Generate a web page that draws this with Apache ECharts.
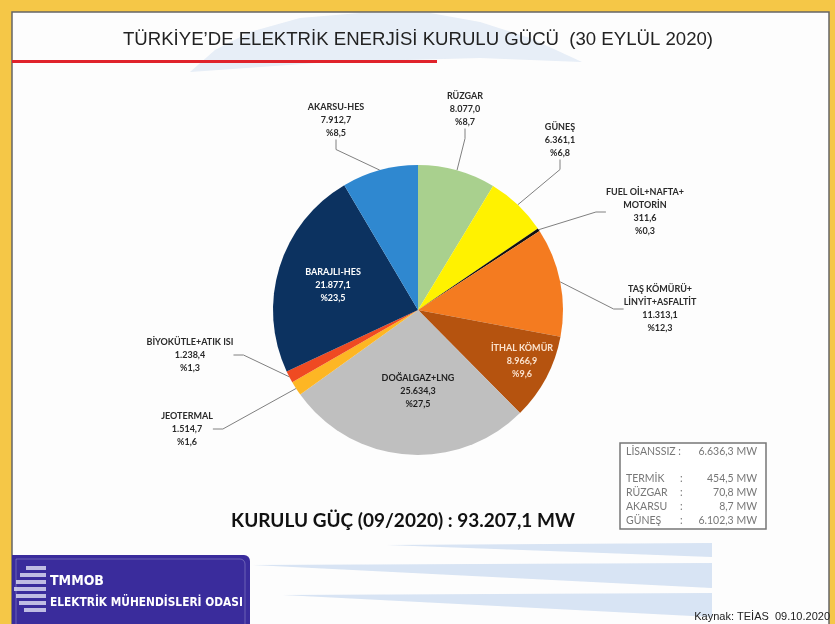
<!DOCTYPE html>
<html>
<head>
<meta charset="utf-8">
<script src="https://cdn.jsdelivr.net/npm/echarts@6/dist/echarts.min.js"></script>
<style>
  html, body { margin: 0; padding: 0; background: #f5c747; }
  #chart { width: 835px; height: 624px; }
</style>
</head>
<body>
<div id="chart"></div>
<script>
(function () {
  'use strict';

  // Kurulu güç by source, clockwise from 12 o'clock
  var sources = [
    'RÜZGAR', 'GÜNEŞ', 'FUEL OİL+NAFTA+\nMOTORİN', 'TAŞ KÖMÜRÜ+\nLİNYİT+ASFALTİT',
    'İTHAL KÖMÜR', 'DOĞALGAZ+LNG', 'JEOTERMAL', 'BİYOKÜTLE+ATIK ISI',
    'BARAJLI-HES', 'AKARSU-HES'
  ];
  var capacityMW = [8077.0, 6361.1, 311.6, 11313.1, 8966.9, 25634.3, 1514.7, 1238.4, 21877.1, 7912.7];
  var sharePct = ['8,7', '6,8', '0,3', '12,3', '9,6', '27,5', '1,6', '1,3', '23,5', '8,5'];

  // Lisanssız box
  var unlicensedTotal = ['LİSANSSIZ', '6.636,3 MW'];
  var unlicensedNames = ['TERMİK', 'RÜZGAR', 'AKARSU', 'GÜNEŞ'];
  var unlicensedValues = ['454,5 MW', '70,8 MW', '8,7 MW', '6.102,3 MW'];

  var titleText = 'TÜRKİYE\u2019DE ELEKTRİK ENERJİSİ KURULU GÜCÜ  (30 EYLÜL 2020)';
  var totalText = 'KURULU GÜÇ (09/2020) : 93.207,1 MW';
  var sourceText = 'Kaynak: TEİAS  09.10.2020';

  // slice colours and label placement (styling, not data)
  var colors = ['#a9d08e', '#fff200', '#111111', '#f47b20', '#b5530f',
    '#bfbfbf', '#fdb624', '#ef4a22', '#0c3260', '#2f88d0'];
  var labelPos = [
    [465, 109], [560, 140], [645, 212], [660, 309], [522, 361],
    [418, 391], [187, 429], [190, 355], [333, 285], [336, 120]
  ];
  var insideIdx = { 4: '#fbe3cf', 5: '#1e1e1e', 8: '#ffffff' };

  function fmt(v) {
    var parts = v.toFixed(1).split('.');
    return parts[0].replace(/\B(?=(\d{3})+(?!\d))/g, '.') + ',' + parts[1];
  }

  var pieData = sources.map(function (name, i) {
    var inside = insideIdx.hasOwnProperty(i);
    return {
      name: name,
      value: capacityMW[i],
      itemStyle: { color: colors[i] },
      label: { color: inside ? insideIdx[i] : '#2a2a2a' },
      labelLine: { show: !inside }
    };
  });

  var chart = echarts.init(document.getElementById('chart'), null, { renderer: 'canvas' });

  var labelFont = 'Lato, "Open Sans", sans-serif';
  var boxFont = '10.5px ' + labelFont;

  // box rows
  var boxGraphics = [
    { type: 'rect', shape: { x: 620, y: 443, width: 146, height: 86 },
      style: { fill: '#ffffff', stroke: '#777', lineWidth: 1.5 }, z: 5 },
    { type: 'text', x: 626, y: 452, style: { text: unlicensedTotal[0] + ' :', fill: '#777',
      font: boxFont, verticalAlign: 'middle' }, z: 6 },
    { type: 'text', x: 757, y: 452, style: { text: unlicensedTotal[1], fill: '#777',
      font: boxFont, align: 'right', verticalAlign: 'middle' }, z: 6 }
  ];
  unlicensedNames.forEach(function (n, i) {
    var y = 479 + i * 14;
    boxGraphics.push({ type: 'text', x: 626, y: y, style: { text: n, fill: '#777',
      font: boxFont, verticalAlign: 'middle' }, z: 6 });
    boxGraphics.push({ type: 'text', x: 680, y: y, style: { text: ':', fill: '#777',
      font: boxFont, verticalAlign: 'middle' }, z: 6 });
    boxGraphics.push({ type: 'text', x: 757, y: y, style: { text: unlicensedValues[i], fill: '#777',
      font: boxFont, align: 'right', verticalAlign: 'middle' }, z: 6 });
  });

  var logoStripes = [];
  [[566, 20], [573, 26], [580, 30], [587, 32], [594, 30], [601, 27], [608, 22]].forEach(function (s) {
    logoStripes.push({ type: 'rect', shape: { x: 46 - s[1], y: s[0], width: s[1], height: 4 },
      style: { fill: 'rgba(225,225,245,0.8)' }, z: 3 });
  });

  var option = {
    animation: false,
    backgroundColor: '#f5c747',
    graphic: [
      { type: 'rect', shape: { x: 12, y: 12, width: 817, height: 620 },
        style: { fill: '#fdfdfd', stroke: '#666', lineWidth: 1.5 }, z: 0 },
      // decorative swoosh behind the title
      { type: 'polygon', shape: { points: [[190, 72], [215, 50], [250, 32], [300, 18], [360, 13],
        [430, 13], [480, 22], [530, 38], [582, 62], [480, 58], [330, 62]] },
        style: { fill: 'rgba(190,208,235,0.35)' }, z: 1 },
      // bottom stripes
      { type: 'polygon', shape: { points: [[387, 545], [712, 543], [712, 557]] },
        style: { fill: 'rgba(200,216,240,0.7)' }, z: 1 },
      { type: 'polygon', shape: { points: [[253, 565], [712, 563], [712, 588]] },
        style: { fill: 'rgba(200,216,240,0.7)' }, z: 1 },
      { type: 'polygon', shape: { points: [[283, 595], [712, 593], [712, 617]] },
        style: { fill: 'rgba(200,216,240,0.7)' }, z: 1 },
      { type: 'rect', shape: { x: 12, y: 60, width: 425, height: 3 },
        style: { fill: '#e0232b' }, z: 2 },
      { type: 'text', x: 418, y: 40, style: { text: titleText, fill: '#222',
        font: '18.6px "Liberation Sans", Arial, sans-serif', align: 'center', verticalAlign: 'middle' }, z: 3 },
      { type: 'text', x: 403, y: 521, style: { text: totalText, fill: '#111',
        font: 'bold 19px ' + labelFont, align: 'center', verticalAlign: 'middle' }, z: 3 },
      { type: 'text', x: 830, y: 617, style: { text: sourceText, fill: '#222',
        font: '11px "Liberation Sans", Arial, sans-serif', align: 'right', verticalAlign: 'middle' }, z: 3 },
      // logo
      { type: 'rect', shape: { x: 12, y: 555, width: 238, height: 75, r: [0, 6, 0, 0] },
        style: { fill: '#3a2c9c' }, z: 2 },
      { type: 'rect', shape: { x: 16, y: 559, width: 229, height: 70, r: [0, 5, 0, 0] },
        style: { fill: 'none', stroke: 'rgba(255,255,255,0.25)', lineWidth: 1 }, z: 2 },
      { type: 'text', x: 50, y: 581, style: { text: 'TMMOB', fill: '#ffffff',
        font: 'bold 14px "DejaVu Sans Condensed", sans-serif', verticalAlign: 'middle' }, z: 3 },
      { type: 'text', x: 50, y: 603, style: { text: 'ELEKTRİK MÜHENDİSLERİ ODASI', fill: '#ffffff',
        font: 'bold 11.8px "DejaVu Sans Condensed", sans-serif', verticalAlign: 'middle' }, z: 3 }
    ].concat(logoStripes).concat(boxGraphics),
    series: [{
      type: 'pie',
      center: [418, 310],
      radius: 145,
      startAngle: 90,
      clockwise: true,
      avoidLabelOverlap: false,
      z: 4,
      itemStyle: { borderWidth: 0 },
      emphasis: { disabled: true },
      label: {
        show: true,
        fontFamily: labelFont,
        fontWeight: 'bold',
        fontSize: 9,
        lineHeight: 13,
        align: 'center',
        formatter: function (p) {
          return p.name + '\n' + fmt(p.value) + '\n%' + sharePct[p.dataIndex];
        }
      },
      labelLine: {
        show: true,
        length: 15,
        length2: 10,
        lineStyle: { color: '#808080', width: 1 }
      },
      labelLayout: function (p) {
        var pos = labelPos[p.dataIndex];
        return { x: pos[0], y: pos[1], align: 'center', verticalAlign: 'middle' };
      },
      data: pieData
    }]
  };

  chart.setOption(option);
})();
</script>
</body>
</html>
